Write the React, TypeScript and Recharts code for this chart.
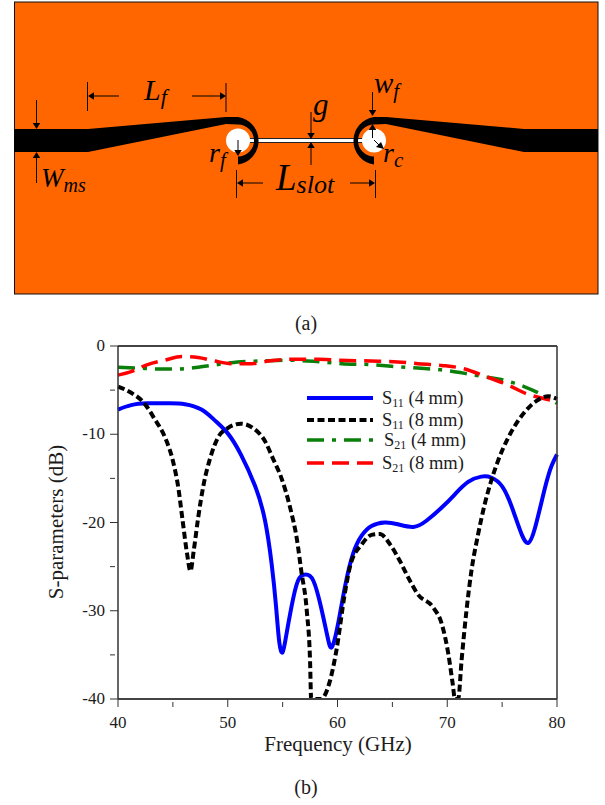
import React from "react";
import { ComposedChart, Line, XAxis, YAxis, Legend } from "recharts";

const SERIF = "'Liberation Serif', serif";
const INK = "#1c1c1c";

const xTicks = [40, 45, 50, 55, 60, 65, 70, 75, 80];
const yTicks = [0, -5, -10, -15, -20, -25, -30, -35, -40];

const s11_4mm = [
  [40, -7.2], [41.2, -6.7], [42.7, -6.5], [44.6, -6.5], [46.1, -6.6], [47.6, -7.2], [48.8, -8.4], [50, -9.9],
  [51.2, -12.3], [52.5, -15.9], [53.4, -19.8], [54, -24.7], [54.4, -29.5], [54.7, -33.6], [55, -34.7], [55.3, -33],
  [55.8, -29.6], [56.4, -26.6], [57.1, -25.9], [57.8, -26.6], [58.5, -29.6], [59.1, -33], [59.5, -34.1],
  [60.05, -31.5], [60.66, -27.4], [61.4, -23.6], [62.2, -21.5], [63.1, -20.4], [64.3, -20], [65.5, -20.2],
  [66.9, -20.5], [68.1, -19.8], [69.5, -18.3], [70.7, -16.8], [71.9, -15.4], [73.1, -14.8], [74, -14.9],
  [75, -15.9], [75.9, -18.3], [76.8, -21.4], [77.4, -22.3], [78, -20.6], [78.9, -16.1], [79.5, -13.6], [80, -12.3],
];
const s11_8mm = [
  [40, -4.6], [41.2, -5.3], [42.4, -6.5], [43.3, -8.2], [44.3, -10.4], [45, -13], [45.5, -16.1], [45.9, -19.9],
  [46.3, -23.6], [46.6, -25.5], [46.9, -23.2], [47.3, -19.5], [47.8, -15.7], [48.4, -12.7], [49.1, -10.4],
  [50, -9.3], [51.2, -8.8], [52.3, -9.3], [53.4, -10.8], [54.1, -12.7], [54.9, -15], [55.7, -18.4], [56.3, -21.9],
  [56.7, -25.5], [57.2, -30], [57.5, -35.7], [57.6, -40], [58.5, -40], [59.3, -38], [59.9, -34.5], [60.66, -28.1],
  [61.2, -24.7], [62.2, -22.5], [63.1, -21.4], [63.85, -21.3], [64.8, -22.5], [65.7, -24.4], [66.6, -26.6],
  [67.3, -28.1], [68.7, -29.6], [69.5, -31.5], [70.1, -34.9], [70.5, -38.3], [70.7, -40], [71, -40], [71.3, -35.7],
  [71.75, -30], [72.2, -25.5], [72.8, -21.4], [73.4, -18], [74, -15.3], [74.6, -13.1], [75.55, -10.4], [76.5, -8.4],
  [77.4, -7], [78.3, -6.1], [79.2, -5.7], [80, -6],
];
const s21_4mm = [
  [40, -2.4], [41.8, -2.5], [43.6, -2.6], [45.5, -2.6], [47.3, -2.4], [49.1, -2.1], [50.9, -1.8], [53, -1.7],
  [55.2, -1.6], [57.3, -1.7], [59.5, -1.9], [60.4, -2], [62.8, -2.1], [64.9, -2.3], [67.3, -2.5], [69.4, -2.7],
  [71.6, -3.1], [73.4, -3.5], [74.9, -3.8], [77, -4.6], [78.6, -5.5], [80, -6.5],
];
const s21_8mm = [
  [40, -3.3], [41.2, -2.9], [42.7, -2.1], [44.3, -1.6], [45.8, -1.2], [47.3, -1.3], [48.8, -1.7], [50.3, -2],
  [52.2, -2], [53.7, -1.7], [55.8, -1.5], [58.2, -1.5], [60, -1.6], [63, -1.7], [65.5, -1.8], [67.3, -2],
  [69.5, -2.2], [71.6, -2.6], [73.4, -3.4], [75.5, -4.4], [77.4, -5.5], [78.6, -5.9], [80, -6.3],
];

const toPoints = (rows: number[][]) => rows.map(([f, v]) => ({ f, v }));

const XTick = (p: any) => {
  const v = p.payload.value;
  const major = v % 10 === 0;
  return (
    <g>
      <line x1={p.x} x2={p.x} y1={p.y} y2={p.y - (major ? 8 : 5)} stroke="#333" strokeWidth={1} />
      {major && (
        <text x={p.x} y={p.y + 21} textAnchor="middle" fontFamily={SERIF} fontSize={17} fill={INK}>{v}</text>
      )}
    </g>
  );
};
const YTick = (p: any) => {
  const v = p.payload.value;
  const major = v % 10 === 0;
  return (
    <g>
      <line x1={p.x} x2={p.x + (major ? 8 : 5)} y1={p.y} y2={p.y} stroke="#333" strokeWidth={1} />
      {major && (
        <text x={p.x - 5} y={p.y + 5} textAnchor="end" fontFamily={SERIF} fontSize={17} fill={INK}>{v}</text>
      )}
    </g>
  );
};

const LegendBox = ({ payload }: any) => (
  <svg width={180} height={90} style={{ display: "block", overflow: "visible" }}>
    {(payload || []).map((e: any, i: number) => {
      const y = [8, 30, 50, 73][i];
      const name = String(e.value);
      return (
        <g key={name}>
          <line x1={0} x2={66} y1={y} y2={y} stroke={e.color} strokeWidth={e.payload.strokeWidth} strokeDasharray={e.payload.strokeDasharray} />
          <text x={[75, 75, 77, 75][i]} y={y + 6} fontFamily={SERIF} fontSize={18.5} fill={INK}>
            {name.slice(0, 1)}
            <tspan fontSize={12} dy={3}>{name.slice(1, 3)}</tspan>
            <tspan dy={-3}>{name.slice(3)}</tspan>
          </text>
        </g>
      );
    })}
  </svg>
);

const ORANGE = "#ff6600";
const arrow = (x: number, y: number, dir: "l" | "r" | "u" | "d", s = 6) => {
  const w = s * 0.62;
  const pts =
    dir === "r" ? `${x},${y} ${x - s},${y - w} ${x - s},${y + w}` :
    dir === "l" ? `${x},${y} ${x + s},${y - w} ${x + s},${y + w}` :
    dir === "u" ? `${x},${y} ${x - w},${y + s} ${x + w},${y + s}` :
    `${x},${y} ${x - w},${y - s} ${x + w},${y - s}`;
  return <polygon points={pts} fill="#000" />;
};
const Ln = (p: any) => <line stroke="#000" strokeWidth={1} {...p} />;
const Lab = ({ x, y, size = 25, main, sub, subSize = 19, dy = 5 }: any) => (
  <text x={x} y={y} fontFamily={SERIF} fontStyle="italic" fontSize={size} fill="#000">
    {main}
    {sub && <tspan fontSize={subSize} dy={dy}>{sub}</tspan>}
  </text>
);

const Diagram = () => (
  <svg width={605} height={340} style={{ position: "absolute", left: 0, top: 0 }}>
    <rect x={14.5} y={2} width={583.5} height={292} fill={ORANGE} stroke="#111" strokeWidth={1} />
    {/* slot */}
    <rect x={250} y={138} width={112} height={5} fill="#222" />
    <rect x={248} y={139} width={116} height={3} fill="#fff" />
    {/* feed left */}
    <path d="M14,129 H88 L226,117 H238 A24,24 0 0 1 238,164.5 V156.5 A16,16 0 0 0 238,124.5 L226,124 L88,152 H14 Z" fill="#000" />
    {/* feed right */}
    <path d="M598,129 H524 L386,117 H374 A24,24 0 0 0 374,164.5 V156.5 A16,16 0 0 1 374,124.5 L386,124 L524,152 H598 Z" fill="#000" />
    <circle cx={238} cy={140.5} r={12} fill="#fff" />
    <circle cx={374} cy={140.5} r={12} fill="#fff" />

    {/* Wms */}
    <Ln x1={36.5} x2={36.5} y1={100} y2={124} />{arrow(36.5, 129, "d")}
    <Ln x1={36.5} x2={36.5} y1={157} y2={183} />{arrow(36.5, 152, "u")}
    <Lab x={41} y={187} size={27} main="W" sub="ms" subSize={20} />
    {/* Lf */}
    <Ln x1={87.5} x2={87.5} y1={82} y2={111} />
    <Ln x1={226} x2={226} y1={83} y2={112} />
    <Ln x1={93} x2={119} y1={96} y2={96} />{arrow(88, 96, "l")}
    <Ln x1={192} x2={220} y1={96} y2={96} />{arrow(226, 96, "r")}
    <Lab x={144} y={100} size={30} main="L" sub="f" subSize={22} dy={4} />
    {/* rf */}
    <Ln x1={238} x2={238} y1={140} y2={150} />{arrow(238, 156, "d")}
    <Lab x={209} y={162} size={28} main="r" sub="f" subSize={21} />
    {/* Lslot */}
    <Ln x1={236.5} x2={236.5} y1={170} y2={198} />
    <Ln x1={375.5} x2={375.5} y1={170} y2={198} />
    <Ln x1={243} x2={263} y1={183} y2={183} />{arrow(237, 183, "l")}
    <Ln x1={350} x2={369} y1={183} y2={183} />{arrow(375, 183, "r")}
    <Lab x={276} y={190} size={37} main="L" sub="slot" subSize={26} dy={3} />
    {/* g */}
    <Ln x1={311} x2={311} y1={112} y2={133} />{arrow(311, 139, "d")}
    <Ln x1={311} x2={311} y1={148} y2={165} />{arrow(311, 142, "u")}
    <Lab x={313} y={115} size={31} main="g" />
    {/* wf */}
    <Ln x1={372.5} x2={372.5} y1={92} y2={110} />{arrow(372.5, 116, "d")}
    <Ln x1={372.5} x2={372.5} y1={129} y2={138} />{arrow(372.5, 124, "u")}
    <Lab x={374} y={93} size={29} main="w" sub="f" subSize={21} />
    {/* rc */}
    <Ln x1={374} x2={379} y1={140} y2={145} />
    <polygon points="384,149 376,147 381,142" fill="#000" />
    <Lab x={383} y={162} size={28} main="r" sub="c" subSize={21} />

    <text x={306} y={330} textAnchor="middle" fontFamily={SERIF} fontSize={20} fill={INK}>(a)</text>
  </svg>
);

export default function App() {
  return (
    <div style={{ position: "absolute", left: 0, top: 0, width: 605, height: 805, background: "#fff" }}>
      <Diagram />
      <div style={{ position: "absolute", left: 0, top: 0 }}>
        <ComposedChart width={605} height={805} margin={{ top: 345, left: 117, right: 47, bottom: 105 }}>
          <XAxis
            xAxisId="b" dataKey="f" type="number" domain={[40, 80]} ticks={xTicks} height={1} interval={0}
            axisLine={{ stroke: "#444", strokeWidth: 2 }} tickLine={false} tick={XTick}
            allowDuplicatedCategory={false}
          />
          <XAxis xAxisId="t" orientation="top" type="number" domain={[40, 80]} height={1} tick={false} tickLine={false} axisLine={{ stroke: "#444", strokeWidth: 2 }} />
          <YAxis
            yAxisId="l" type="number" domain={[-40, 0]} ticks={yTicks} width={1} interval={0} allowDataOverflow
            axisLine={{ stroke: "#333", strokeWidth: 1.5 }} tickLine={false} tick={YTick}
          />
          <YAxis yAxisId="r" orientation="right" type="number" domain={[-40, 0]} width={1} tick={false} tickLine={false} axisLine={{ stroke: "#333", strokeWidth: 1.5 }} />
          <Legend
            layout="vertical" align="center" verticalAlign="middle" content={LegendBox as any}
            wrapperStyle={{ position: "absolute", left: 307, top: 390, width: 180, height: 90 }}
          />
          <Line xAxisId="b" yAxisId="l" data={toPoints(s21_4mm)} dataKey="v" name="S21 (4 mm)" type="monotone" stroke="#0a800a" strokeWidth={3.5} strokeDasharray="17 8 4 8" dot={false} isAnimationActive={false} />
          <Line xAxisId="b" yAxisId="l" data={toPoints(s21_8mm)} dataKey="v" name="S21 (8 mm)" type="monotone" stroke="#ff0000" strokeWidth={3.5} strokeDasharray="17 8" dot={false} isAnimationActive={false} />
          <Line xAxisId="b" yAxisId="l" data={toPoints(s11_4mm)} dataKey="v" name="S11 (4 mm)" type="natural" stroke="#0000ff" strokeWidth={4} dot={false} isAnimationActive={false} />
          <Line xAxisId="b" yAxisId="l" data={toPoints(s11_8mm)} dataKey="v" name="S11 (8 mm)" type="monotone" stroke="#000000" strokeWidth={4} strokeDasharray="7 3.5" dot={false} isAnimationActive={false} />
        </ComposedChart>
      </div>
      <div style={{ position: "absolute", left: 0, top: 0, pointerEvents: "none" }}>
        <svg width={605} height={805}>
          <text transform="translate(63,522) rotate(-90)" textAnchor="middle" fontFamily={SERIF} fontSize={21} fill={INK}>S-parameters (dB)</text>
          <text x={338} y={751} textAnchor="middle" fontFamily={SERIF} fontSize={21} fill={INK}>Frequency (GHz)</text>
          <text x={306} y={794} textAnchor="middle" fontFamily={SERIF} fontSize={20} fill={INK}>(b)</text>
        </svg>
      </div>
    </div>
  );
}
